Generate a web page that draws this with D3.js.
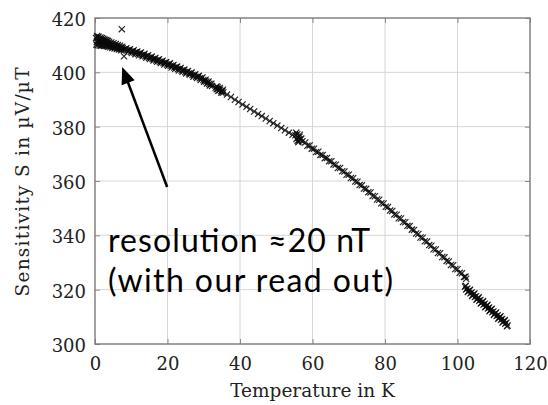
<!DOCTYPE html>
<html>
<head>
<meta charset="utf-8">
<script src="https://cdn.jsdelivr.net/npm/d3@7"></script>
<style>
  html, body { margin: 0; padding: 0; background: #fff; }
  svg { display: block; }
</style>
</head>
<body>
<svg id="chart"></svg>
<script>
// Sensitivity vs temperature
// [temperature K, sensitivity uV/uT]
const lowTempCluster = [
  [0.3,412.6],[0.5,411.2],[0.7,412.9],[0.9,411.6],[1.1,410.8],[1.2,412.3],[1.4,411.4],[1.6,412.0],
  [1.8,410.6],[2.0,411.5],[2.2,410.9],[2.4,411.9],[2.6,410.4],[2.8,411.2],[3.0,410.6],[3.2,411.5],
  [3.4,410.1],[3.6,410.8],[3.8,409.9],[4.0,410.6],[4.3,409.8],[4.6,410.3],[4.9,409.5],[5.2,410.0],
  [5.5,409.3],[5.8,409.7],[6.1,409.0],[6.4,409.5],[6.7,408.8],[7.0,409.2],[7.3,408.6],[7.6,408.9],
  [7.9,408.4],
  [0.4,410.2],[0.6,413.4],[0.8,410.0],[1.0,413.1],[1.3,409.9],[1.5,412.8],[1.7,409.8],[1.9,412.6],
  [2.1,410.0],[2.3,412.4],[2.5,409.7],[2.7,412.0],[2.9,409.9],[3.1,411.9],[3.3,409.6],[3.5,411.6],
  [3.7,409.4],[3.9,411.3],[4.2,409.2],[4.5,411.0],[4.8,409.0],[5.1,410.7],[5.4,408.8],[5.7,410.4],
  [6.0,408.6],[6.3,410.1],[6.6,408.4],[6.9,409.8],[7.2,408.1],[7.5,409.4]
];
const outliers = [[7.4,415.9],[8.0,405.9]];
const band8to30 = [
  [8.4,408.5],[8.9,408.1],[9.4,408.2],[9.9,407.6],[10.4,407.8],[10.9,407.2],[11.4,407.4],[11.9,406.8],
  [12.4,407.0],[12.9,406.4],[13.4,406.5],[13.9,405.9],[14.4,406.0],[14.9,405.4],[15.4,405.5],[15.9,404.9],
  [16.4,405.0],[16.9,404.4],[17.4,404.5],[17.9,403.9],[18.4,404.0],[18.9,403.4],[19.4,403.5],[19.9,402.9],
  [20.4,403.0],[20.9,402.4],[21.4,402.4],[21.9,401.8],[22.4,401.9],[22.9,401.2],[23.4,401.3],[23.9,400.7],
  [24.4,400.8],[24.9,400.1],[25.4,400.2],[25.9,399.6],[26.4,399.7],[26.9,399.0],[27.4,399.0],[27.9,398.4],
  [28.4,398.5],[28.9,397.8],[29.4,397.8],[29.9,397.2],[30.3,396.9],[30.7,396.6],[31.1,396.2],[31.5,395.8],
  [31.9,395.6],[32.3,395.0],
  [8.65,408.9],[9.15,407.6],[9.65,408.5],[10.15,407.1],[10.65,408.1],[11.15,406.7],[11.65,407.7],[12.15,406.3],
  [12.65,407.3],[13.15,405.9],[13.65,406.8],[14.15,405.4],[14.65,406.3],[15.15,404.9],[15.65,405.8],[16.15,404.4],
  [16.65,405.3],[17.15,403.9],[17.65,404.8],[18.15,403.4],[18.65,404.3],[19.15,402.9],[19.65,403.8],[20.15,402.4],
  [20.65,403.3],[21.15,401.8],[21.65,402.7],[22.15,401.3],[22.65,402.1],[23.15,400.7],[23.65,401.6],[24.15,400.2],
  [24.65,401.0],[25.15,399.6],[25.65,400.5],[26.15,399.1],[26.65,399.9],[27.15,398.4],[27.65,399.3],[28.15,397.9],
  [28.65,398.7],[29.15,397.2],[29.65,398.1],[30.1,396.5],[30.5,397.3],[30.9,395.9],[31.3,396.6],[31.7,395.2],
  [32.1,395.8]
];
const cluster33to35 = [
  [33.3,394.3],[33.6,393.8],[33.9,394.0],[34.2,393.4],[34.5,393.6],[34.8,393.0],[35.1,393.1],[35.4,392.6],
  [33.5,394.8],[34.0,393.2],[34.4,394.2],[34.9,392.5],[35.3,393.6],[33.8,394.6]
];
const sparse36to55 = [
  [36.4,391.8],[37.5,390.9],[38.6,389.9],[39.6,389.1],[40.7,388.2],[41.8,387.3],[42.8,386.5],[43.9,385.6],
  [45.0,384.7],[46.0,383.9],[47.1,383.0],[48.2,382.1],[49.2,381.3],[50.3,380.4],[51.4,379.5],[52.4,378.7],
  [53.5,377.8],[54.5,377.0]
];
const cluster56 = [
  [55.3,376.8],[55.6,375.5],[55.8,377.2],[56.0,376.0],[56.2,375.0],[56.4,376.3],[56.6,375.2],[56.9,375.6],
  [57.2,374.6],[55.5,377.8],[56.1,374.3],[56.5,377.0],[55.9,374.8]
];
const band58to102 = [
  [58.0,374.2],[58.6,373.0],[59.2,373.1],[59.8,371.9],[60.4,371.9],[61.0,370.7],[61.6,370.8],[62.2,369.6],
  [62.8,369.6],[63.4,368.4],[64.0,368.5],[64.6,367.3],[65.2,367.3],[65.8,366.1],[66.4,366.0],[67.0,364.8],
  [67.6,364.8],[68.2,363.6],[68.8,363.5],[69.4,362.3],[70.0,362.3],[70.6,361.1],[71.2,361.0],[71.8,359.8],
  [72.4,359.7],[73.0,358.5],[73.6,358.4],[74.2,357.2],[74.8,357.1],[75.4,355.9],[76.0,355.8],[76.6,354.5],
  [77.2,354.4],[77.8,353.2],[78.4,353.1],[79.0,351.8],[79.6,351.7],[80.2,350.5],[80.8,350.4],[81.4,349.1],
  [82.0,349.0],[82.6,347.7],[83.2,347.6],[83.8,346.3],[84.4,346.2],[85.0,344.9],[85.6,344.8],[86.2,343.5],
  [86.8,343.4],[87.4,342.1],[88.0,342.0],[88.6,340.7],[89.2,340.5],[89.8,339.2],[90.4,339.1],[91.0,337.8],
  [91.6,337.7],[92.2,336.4],[92.8,336.2],[93.4,334.9],[94.0,334.8],[94.6,333.5],[95.2,333.4],[95.8,332.0],
  [96.4,331.9],[97.0,330.6],[97.6,330.4],[98.2,329.1],[98.8,329.0],[99.4,327.6],[100.0,327.5],[100.6,326.2],
  [101.2,326.0],[101.8,324.7],[102.2,324.8],[102.4,324.0]
];
const band102to114 = [
  [102.1,321.1],[102.4,320.1],[102.7,320.4],[103.0,319.4],[103.3,319.7],[103.6,318.7],[103.9,319.0],[104.2,318.0],
  [104.5,318.3],[104.8,317.3],[105.1,317.6],[105.4,316.6],[105.7,316.9],[106.0,315.9],[106.3,316.2],[106.6,315.2],
  [106.9,315.5],[107.2,314.5],[107.5,314.8],[107.8,313.8],[108.1,314.1],[108.4,313.1],[108.7,313.4],[109.0,312.4],
  [109.3,312.7],[109.6,311.7],[109.9,312.0],[110.2,311.0],[110.5,311.3],[110.8,310.3],[111.1,310.6],[111.4,309.6],
  [111.7,309.9],[112.0,308.9],[112.3,309.2],[112.6,308.2],[112.9,308.5],[113.2,307.5],[113.5,307.8],[113.8,306.8],
  [102.25,321.4],[102.85,319.1],[103.45,320.0],[104.05,317.7],[104.65,318.6],[105.25,316.3],[105.85,317.2],[106.45,314.9],
  [107.05,315.8],[107.65,313.5],[108.25,314.4],[108.85,312.1],[109.45,313.0],[110.05,310.7],[110.65,311.6],[111.25,309.3],
  [111.85,310.2],[112.45,307.9],[113.05,308.8],[113.65,306.5]
];

const xTicks = [0, 20, 40, 60, 80, 100, 120];
const yTicks = [300, 320, 340, 360, 380, 400, 420];
const xTitle = 'Temperature in K';
const yTitle = 'Sensitivity S in \u00b5V/\u00b5T';

// annotation, in data units
const noteLines = ['resolution \u224820 nT', '(with our read out)'];
const noteAnchor = [3.6, 333.9];
const noteLineStep = 14.7;
const arrowFrom = [19.9, 357.8];
const arrowTo = [7.5, 402.0];

const points = [].concat(lowTempCluster, outliers, band8to30, cluster33to35, sparse36to55,
                         cluster56, band58to102, band102to114);

const W = 548, H = 405;
const svg = d3.select('#chart').attr('width', W).attr('height', H);
svg.append('rect').attr('width', W).attr('height', H).attr('fill', '#fff');

const x = d3.scaleLinear().domain([0, 120]).range([95, 530]);
const y = d3.scaleLinear().domain([300, 420]).range([344, 18]);

const serif = '"DejaVu Serif", "Liberation Serif", serif';

// grid
const grid = svg.append('g').attr('stroke', '#d6d6d6').attr('stroke-width', 1);
grid.selectAll('line.gx').data(xTicks.slice(1, -1)).join('line')
  .attr('x1', d => x(d)).attr('x2', d => x(d))
  .attr('y1', y(300)).attr('y2', y(420));
grid.selectAll('line.gy').data(yTicks.slice(1, -1)).join('line')
  .attr('x1', x(0)).attr('x2', x(120))
  .attr('y1', d => y(d)).attr('y2', d => y(d));

// axes (ticks inside, labels drawn with the axis generator)
const xAxis = svg.append('g').attr('transform', `translate(0,${y(300)})`)
  .call(d3.axisBottom(x).tickValues(xTicks).tickSizeInner(-5).tickSizeOuter(0).tickPadding(13));
const xAxisTop = svg.append('g').attr('transform', `translate(0,${y(420)})`)
  .call(d3.axisTop(x).tickValues(xTicks).tickSizeInner(-5).tickSizeOuter(0).tickFormat(''));
const yAxis = svg.append('g').attr('transform', `translate(${x(0)},0)`)
  .call(d3.axisLeft(y).tickValues(yTicks).tickSizeInner(-5).tickSizeOuter(0).tickPadding(9));
const yAxisRight = svg.append('g').attr('transform', `translate(${x(120)},0)`)
  .call(d3.axisRight(y).tickValues(yTicks).tickSizeInner(-5).tickSizeOuter(0).tickFormat(''));

[xAxis, xAxisTop, yAxis, yAxisRight].forEach(g => {
  g.select('.domain').remove();
  g.selectAll('.tick line').attr('stroke', '#8a8a8a').attr('stroke-width', 1);
  g.selectAll('text').attr('font-family', serif).attr('font-size', 18).attr('fill', '#222');
});
xAxis.selectAll('text').attr('dy', '0.71em');
yAxis.selectAll('text').attr('dy', '0.42em');

// frame
svg.append('rect')
  .attr('x', x(0)).attr('y', y(420))
  .attr('width', x(120) - x(0)).attr('height', y(300) - y(420))
  .attr('fill', 'none').attr('stroke', '#7a7a7a').attr('stroke-width', 1.4);

// axis titles
svg.append('text')
  .attr('x', (x(0) + x(120)) / 2).attr('y', 397)
  .attr('text-anchor', 'middle')
  .attr('font-family', serif).attr('font-size', 18.5).attr('fill', '#222')
  .text(xTitle);

svg.append('text')
  .attr('transform', `translate(29,${(y(300) + y(420)) / 2 + 1}) rotate(-90)`)
  .attr('text-anchor', 'middle')
  .attr('font-family', serif).attr('font-size', 18.5).attr('fill', '#222')
  .attr('textLength', 229)
  .text(yTitle);

// data markers (x-shaped)
const r = 3.1;
const cross = `M${-r},${-r}L${r},${r}M${-r},${r}L${r},${-r}`;
svg.append('g').attr('class', 'marks')
  .selectAll('path').data(points).join('path')
  .attr('transform', d => `translate(${x(d[0])},${y(d[1])})`)
  .attr('d', cross)
  .attr('fill', 'none')
  .attr('stroke', '#0a0a0a')
  .attr('stroke-opacity', 0.9)
  .attr('stroke-width', 1.15);

// annotation arrow
const ax0 = x(arrowFrom[0]), ay0 = y(arrowFrom[1]);
const ax1 = x(arrowTo[0]), ay1 = y(arrowTo[1]);
const len = Math.hypot(ax1 - ax0, ay1 - ay0);
const ux = (ax1 - ax0) / len, uy = (ay1 - ay0) / len;
const headL = 17, headW = 7;
const bx = ax1 - ux * headL, by = ay1 - uy * headL;
svg.append('line')
  .attr('x1', ax0).attr('y1', ay0)
  .attr('x2', ax1 - ux * (headL - 2)).attr('y2', ay1 - uy * (headL - 2))
  .attr('stroke', '#000').attr('stroke-width', 2.5);
svg.append('path')
  .attr('d', `M${ax1},${ay1}L${bx - uy * headW},${by + ux * headW}L${bx + uy * headW},${by - ux * headW}Z`)
  .attr('fill', '#000');

// annotation text
const noteWidths = [262, 285];
svg.append('g').selectAll('text').data(noteLines).join('text')
  .attr('x', x(noteAnchor[0]))
  .attr('y', (d, i) => y(noteAnchor[1] - i * noteLineStep))
  .attr('font-family', 'Lato, "Open Sans", sans-serif')
  .attr('font-size', 32)
  .attr('fill', '#000')
  .attr('textLength', (d, i) => noteWidths[i])
  .text(d => d);
</script>
</body>
</html>
